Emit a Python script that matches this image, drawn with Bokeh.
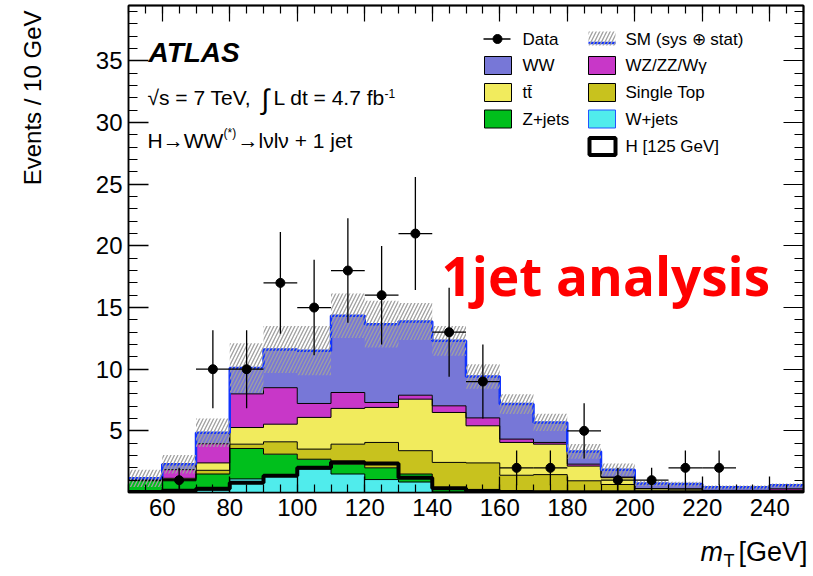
import numpy as np
from bokeh.plotting import figure
from bokeh.models import Label, BoxAnnotation, LinearAxis, FixedTicker
from bokeh.core.properties import value
from bokeh.embed import file_html
from bokeh.resources import INLINE

# ---------------- data ----------------
bin_edges = [50, 60, 70, 80, 90, 100, 110, 120, 130, 140, 150,
             160, 170, 180, 190, 200, 210, 220, 230, 240, 250]
data_events = [0, 1, 10, 10, 17, 15, 18, 16, 21, 13, 9, 2, 2, 5, 1, 1, 2, 2, 0, 0]
w_jets = [0.15, 0.15, 0.2, 1.1, 1.3, 1.9, 1.5, 1.05, 0.85, 0.05, 0.03, 0.02, 0.02, 0.01, 0.01, 0, 0, 0, 0, 0]
z_jets = [0.8, 0.8, 1.3, 2.47, 1.81, 0.8, 0.8, 0.95, 0.65, 0.25, 0.22, 0.13, 0.08, 0.04, 0.02, 0.02, 0.02, 0.01, 0.01, 0.01]
single_top = [0.02, 0.1, 0.3, 0.35, 1.0, 0.82, 1.62, 2.06, 1.89, 2.14, 2.15, 1.25, 1.35, 0.9, 0.62, 0.1, 0.08, 0.05, 0.05, 0.05]
ttbar = [0.03, 0.1, 0.6, 1.35, 1.43, 2.57, 2.9, 2.84, 4.18, 4.05, 3.01, 2.66, 2.47, 1.19, 0.55, 0.18, 0.18, 0.09, 0.09, 0.12]
wz_zz_wg = [0.05, 0.7, 1.55, 2.73, 2.96, 1.13, 1.29, 0.4, 0.32, 0.54, 0.64, 0.27, 0.14, 0.16, 0.05, 0.02, 0.02, 0.02, 0.02, 0.12]
ww = [0.1, 0.45, 0.9, 2.1, 3.1, 4.28, 6.22, 6.35, 5.98, 5.27, 3.36, 2.84, 1.62, 1.03, 0.6, 0.41, 0.38, 0.25, 0.25, 0.28]
higgs_125 = [0.05, 0.15, 0.3, 0.8, 1.35, 2.0, 2.45, 2.35, 1.2, 0.35, 0.1, 0.05, 0.03, 0.02, 0.02, 0.02, 0.02, 0.02, 0.02, 0.02]
sm_uncert = [0.7, 0.75, 1.15, 2.0, 1.9, 2.0, 1.8, 1.9, 1.5, 1.2, 1.0, 0.8, 0.7, 0.6, 0.5, 0.2, 0.2, 0.15, 0.15, 0.15]

x_ticks = [60, 80, 100, 120, 140, 160, 180, 200, 220, 240]
y_ticks = [5, 10, 15, 20, 25, 30, 35]

# ---------------- style ----------------
FONT = "Liberation Sans"
c_ww = "#7777d7"
c_wz = "#c837c8"
c_tt = "#f1eb5d"
c_st = "#c8c21e"
c_z = "#00bf1c"
c_w = "#50ecec"
c_sm = "#1133ff"

X0, X1 = 50, 250
FR_L, FR_R, FR_T, FR_B = 128, 803, 5, 492
PX_X = (FR_R - FR_L) / (X1 - X0)
PX_Y = 12.33
Y1 = (FR_B - FR_T) / PX_Y

p = figure(width=810, height=572, x_range=(X0, X1), y_range=(0, Y1),
           output_backend="svg", toolbar_location=None,
           min_border_left=FR_L, min_border_right=810 - FR_R,
           min_border_top=FR_T, min_border_bottom=572 - FR_B)
p.xgrid.visible = False
p.ygrid.visible = False
p.outline_line_color = "black"
p.outline_line_width = 1.5
p.background_fill_color = "white"
p.border_fill_color = "white"

# page pixel -> data helpers (layout only)
def dx(px):
    return X0 + (px - FR_L) / PX_X

def dy(py):
    return (FR_B - py) / PX_Y

edges = np.array(bin_edges, dtype=float)
left = edges[:-1]
right = edges[1:]
centers = 0.5 * (left + right)

layers = [(w_jets, c_w), (z_jets, c_z), (single_top, c_st),
          (ttbar, c_tt), (wz_zz_wg, c_wz), (ww, c_ww)]
bottom = np.zeros(len(left))
tops = []
for vals, col in layers:
    top = bottom + np.array(vals, dtype=float)
    p.varea_step(x=edges, y1=np.append(bottom, bottom[-1]), y2=np.append(top, top[-1]),
                 step_mode="after", fill_color=col)
    tops.append(top)
    bottom = top

for top in tops[:-1]:
    p.step(x=edges, y=np.append(top, top[-1]), mode="after", line_color="black", line_width=1)

total = tops[-1]
hig = np.array(higgs_125, dtype=float)
p.step(x=edges, y=np.append(hig, hig[-1]), mode="after", line_color="black", line_width=4)

p.step(x=edges, y=np.append(total, total[-1]), mode="after", line_color=c_sm, line_width=2.5)

err = np.array(sm_uncert, dtype=float)
p.quad(left=left, right=right, bottom=total - err, top=total + err,
       fill_color=None, fill_alpha=0, line_color=None,
       hatch_pattern="/", hatch_color="#a0a0a0", hatch_scale=7, hatch_weight=1.3)

# data points
d = np.array(data_events, dtype=float)
mask = d > 0
dc = centers[mask]
dv = d[mask]
de = np.sqrt(dv)
p.segment(x0=dc, y0=dv - de, x1=dc, y1=dv + de, line_color="black", line_width=1.3)
p.segment(x0=left[mask], y0=dv, x1=right[mask], y1=dv, line_color="black", line_width=1.3)
p.scatter(x=dc, y=dv, size=9, color="black")

# ---------------- axes ----------------
x_minor = list(range(50, 251, 5))
y_minor = list(range(0, 40, 1))
xt = FixedTicker(ticks=x_ticks, minor_ticks=x_minor)
yt = FixedTicker(ticks=y_ticks, minor_ticks=y_minor)

for ax in p.xaxis:
    ax.ticker = xt
for ax in p.yaxis:
    ax.ticker = yt

def style_axis(ax, major_in, minor_in):
    ax.major_tick_in = major_in
    ax.major_tick_out = 0
    ax.minor_tick_in = minor_in
    ax.minor_tick_out = 0
    ax.axis_line_color = "black"
    ax.axis_line_width = 1.5
    ax.major_tick_line_width = 1.3
    ax.minor_tick_line_width = 1.2
    ax.major_tick_line_color = "black"
    ax.minor_tick_line_color = "black"
    ax.major_label_text_font = FONT
    ax.major_label_text_font_size = "24px"
    ax.major_label_text_color = "black"
    ax.major_label_standoff = 6

style_axis(p.xaxis[0], 16, 8)
style_axis(p.yaxis[0], 20, 9)

# mirrored tick marks (no labels) on top and right
def tick_axis(minor_positions, length):
    ax = LinearAxis(ticker=FixedTicker(ticks=[], minor_ticks=minor_positions))
    ax.major_tick_in = 0
    ax.major_tick_out = 0
    ax.minor_tick_in = length
    ax.minor_tick_out = 0
    ax.minor_tick_line_color = "black"
    ax.minor_tick_line_width = 1.2
    ax.axis_line_color = "black"
    ax.axis_line_width = 1.5
    ax.major_label_standoff = 0
    return ax

p.add_layout(tick_axis(x_minor, 8), "above")
p.add_layout(tick_axis(x_ticks, 16), "above")
p.add_layout(tick_axis(y_minor, 9), "right")
p.add_layout(tick_axis(y_ticks, 20), "right")

# ---------------- texts ----------------
BL = 0.37  # empirical baseline correction (fraction of font size)

def lab(px, py, text, size, style="normal", color="black", font=FONT):
    p.add_layout(Label(x=dx(px), y=dy(py - BL * size), text=text, text_font=font,
                       text_font_size=f"{size}px", text_font_style=style, text_color=color,
                       text_align="left", text_baseline="alphabetic"))

def out_text(px, py, text, size, style="normal", align="left", angle=0.0, baseline="alphabetic"):
    shift = BL * size if baseline == "alphabetic" else 0.0
    p.text(x=[dx(px)], y=[dy(py - shift)], text=[text], text_font=value(FONT),
           text_font_size=value(f"{size}px"), text_font_style=style, text_color="black",
           text_align=align, text_baseline=baseline, angle=angle, level="overlay")

out_text(32, 10, "Events / 10 GeV", 24, align="right", angle=np.pi / 2, baseline="middle")
out_text(700, 561, "m", 27, style="italic")
out_text(723, 567, "T", 18)
out_text(738, 561, "[GeV]", 27)

lab(148, 62, "ATLAS", 28, style="bold italic")
lab(147, 105, "\u221as = 7 TeV,", 21)
lab(261, 109, "\u222b", 28)
lab(273, 105, "L dt = 4.7 fb", 21)
lab(384, 97, "-1", 12)
lab(147, 148, "H\u2192WW", 21)
lab(223, 137, "(*)", 12)
lab(237, 148, "\u2192l\u03bdl\u03bd + 1 jet", 21)

lab(441, 295, "1jet analysis", 53, style="bold", color="#ff0000", font="Open Sans")

# ---------------- legend (manual) ----------------
row_c = [38.5, 65, 92, 118.5, 146]
col_box = [(484, 511), (588, 615)]
col_txt = [522, 625]

def box(px0, px1, pyc, fill, line="black", lw=1.0, h=18):
    p.add_layout(BoxAnnotation(left=dx(px0), right=dx(px1), top=dy(pyc - h / 2),
                               bottom=dy(pyc + h / 2), fill_color=fill, fill_alpha=1,
                               line_color=line, line_alpha=1, line_width=lw))

# Data key
p.segment(x0=[dx(483)], y0=[dy(row_c[0])], x1=[dx(510)], y1=[dy(row_c[0])],
          line_color="black", line_width=1.3)
p.scatter(x=[dx(497)], y=[dy(row_c[0])], size=9, color="black")
lab(col_txt[0], row_c[0] + 6.5, "Data", 17)

# SM key
p.add_layout(BoxAnnotation(left=dx(588), right=dx(615), top=dy(31), bottom=dy(45),
                           fill_color=None, fill_alpha=0, line_color=None,
                           hatch_pattern="/", hatch_color="#a0a0a0", hatch_scale=7,
                           hatch_weight=1.3))
p.segment(x0=[dx(588)], y0=[dy(42.5)], x1=[dx(615)], y1=[dy(42.5)],
          line_color=c_sm, line_width=2.5)
lab(col_txt[1], row_c[0] + 6.5, "SM (sys \u2295 stat)", 17)

entries = [
    (0, 1, c_ww, "WW", "black"),
    (1, 1, c_wz, "WZ/ZZ/W\u03b3", "black"),
    (0, 2, c_tt, "t\u0074\u0304", "black"),
    (1, 2, c_st, "Single Top", "black"),
    (0, 3, c_z, "Z+jets", "black"),
    (1, 3, c_w, "W+jets", "#2255ff"),
]
for col, row, fill, text, lc in entries:
    box(col_box[col][0], col_box[col][1], row_c[row], fill, line=lc)
    lab(col_txt[col], row_c[row] + 6.5, text, 17)

box(589, 615, row_c[4], "white", line="black", lw=4, h=17)
lab(col_txt[1], row_c[4] + 6.5, "H [125 GeV]", 17)

open("out.html", "w").write(file_html(p, INLINE))
